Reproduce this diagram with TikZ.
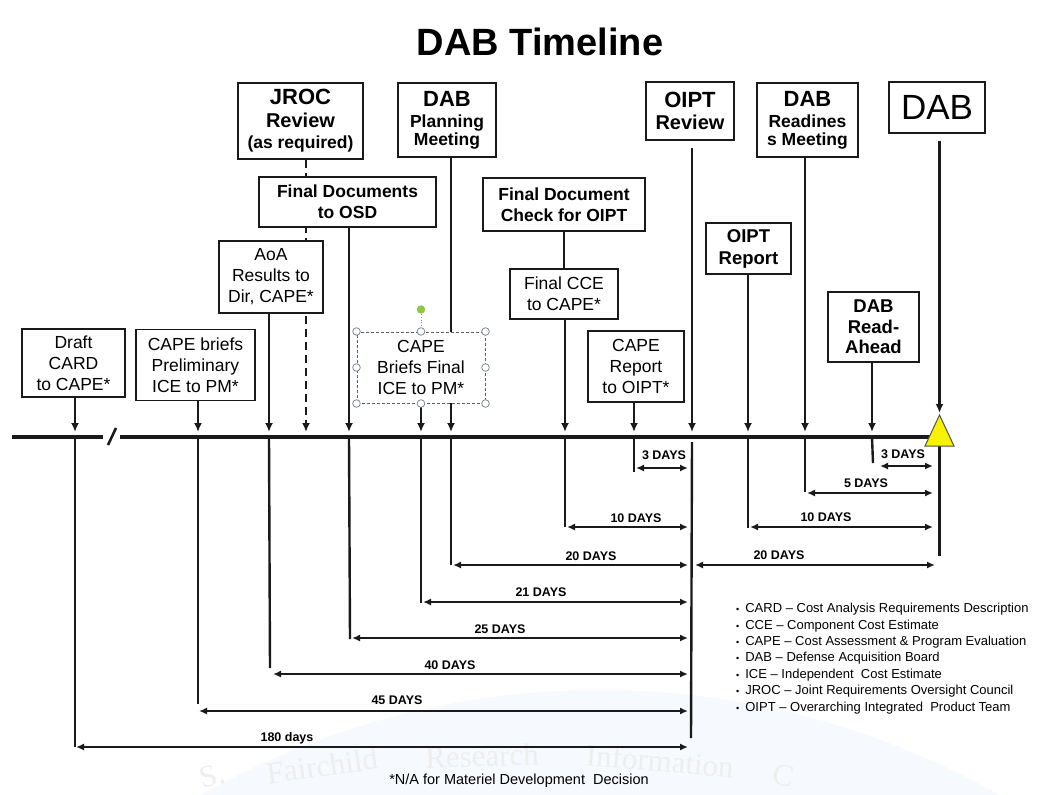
\documentclass[tikz,border=0pt]{standalone}
\usepackage{fontspec}
\setmainfont{Liberation Sans}
\newfontfamily\wmfont{Liberation Serif}
\usetikzlibrary{arrows.meta}
\definecolor{ink}{HTML}{1A1A1A}
\definecolor{triyellow}{HTML}{F7F200}
\definecolor{wmblue}{HTML}{F6F9FD}
\definecolor{wmgray}{HTML}{EEEEEE}
\definecolor{handlegray}{HTML}{7D8A96}
\definecolor{rotgreen}{HTML}{8DC63F}
\pgfdeclarelayer{back}
\pgfdeclarelayer{lines}
\pgfsetlayers{back,lines,main}
\tikzset{
  box/.style={draw=ink, line width=1.6pt, fill=white, align=center, inner sep=0pt},
  reg/.style={font=\fontsize{17.5}{21}\selectfont},
  bld/.style={font=\fontsize{17.5}{21}\selectfont\bfseries},
  vline/.style={draw=ink, line width=2.4pt},
  down/.style={vline, -{Latex[length=9pt,width=8pt]}},
  jrocline/.style={down, dash pattern=on 8pt off 5pt},
  span/.style={draw=ink, line width=1.8pt, {Latex[length=8pt,width=7pt]}-{Latex[length=8pt,width=7pt]}},
  days/.style={font=\fontsize{12.5}{14}\selectfont\bfseries, inner sep=0pt},
  handle/.style={draw=handlegray, fill=white, line width=0.8pt},
  wm/.style={font=\wmfont\fontsize{31}{31}\selectfont, text=wmgray, inner sep=0pt},
}
\begin{document}
\begin{tikzpicture}[x=1pt,y=-1pt]
\useasboundingbox (0,0) rectangle (1042,795);
\begin{pgfonlayer}{back}
  \fill[white] (0,0) rectangle (1042,795);
  \begin{scope}
    \clip (0,0) rectangle (1042,795);
    \fill[wmblue] (600,1500) circle (810);
  \end{scope}
  % watermark words
  \node[wm, rotate=14] (wm1) at (212,776) {S.};
  \node[wm, rotate=8] (wm2) at (322,766) {Fairchild};
  \node[wm, rotate=2] (wm3) at (482,756) {Research};
  \node[wm, rotate=-5] (wm4) at (660,761) {Information};
  \node[wm, rotate=-11] (wm5) at (784,776) {C};
\end{pgfonlayer}

% title
\node[font=\fontsize{38}{40}\selectfont\bfseries] (title) at (540,42) {DAB Timeline};

% boxes
\node[box,reg,minimum width=103pt,minimum height=68pt] (card) at (73.5,363) {Draft\\CARD\\to CAPE*};
\node[box,reg,minimum width=119pt,minimum height=71pt] (prelim) at (195.5,365) {CAPE briefs\\Preliminary\\ICE to PM*};
\node[box,reg,minimum width=104pt,minimum height=72pt] (aoa) at (271,277) {AoA\\Results to\\Dir, CAPE*};
\node[box,bld,minimum width=125pt,minimum height=76pt] (jroc) at (300.5,121) {{\fontsize{22}{24}\selectfont JROC}\\[2pt]{\fontsize{20}{22}\selectfont Review}\\(as required)};
\node[box,bld,minimum width=177pt,minimum height=50pt] (fdocs) at (347.5,202) {Final Documents\\to OSD};
\node[box,bld,minimum width=98pt,minimum height=74pt] (dabplan) at (447,120) {{\fontsize{22}{24}\selectfont DAB}\\Planning\\[-3pt]Meeting};
\node[box,reg,draw=handlegray!70!black,line width=1pt,dash pattern=on 3pt off 2pt,minimum width=128pt,minimum height=71pt] (capefin) at (421,367.5) {CAPE\\Briefs Final\\ICE to PM*};
\node[box,bld,minimum width=162pt,minimum height=53pt] (fdcheck) at (564,204.5) {Final Document\\Check for OIPT};
\node[box,reg,minimum width=108pt,minimum height=50pt] (fcce) at (564,294) {Final CCE\\to CAPE*};
\node[box,reg,minimum width=96pt,minimum height=71pt] (caperep) at (636,366.5) {CAPE\\Report\\to OIPT*};
\node[box,bld,minimum width=88pt,minimum height=58pt] (oiptrev) at (690,111) {{\fontsize{22}{24}\selectfont OIPT}\\[1pt]{\fontsize{20}{22}\selectfont Review}};
\node[box,bld,minimum width=101pt,minimum height=74pt] (dabready) at (807.5,120) {{\fontsize{22}{24}\selectfont DAB}\\Readines\\[-3pt]s Meeting};
\node[box,minimum width=96pt,minimum height=51pt,font=\fontsize{35}{38}\selectfont] (dab) at (937,107.5) {DAB};
\node[box,minimum width=85pt,minimum height=51pt,font=\fontsize{18.5}{22}\selectfont\bfseries] (oiptrep) at (748.5,248.5) {OIPT\\Report};
\node[box,minimum width=91pt,minimum height=70pt,font=\fontsize{18.5}{20.5}\selectfont\bfseries] (readahead) at (873.5,327) {DAB\\Read-\\Ahead};

% selection handles on the CAPE Briefs Final box
\draw[handlegray, dotted, line width=0.8pt] (capefin.north) -- ++(0,-18);
\fill[rotgreen] ([yshift=22pt]capefin.north) circle (4.2);
\foreach \a in {north west,north,north east,east,south east,south,south west,west}
  \draw[handle] (capefin.\a) circle (3.8);

% timeline coordinates (above: arrow tips; below: ends)
\coordinate (p1) at (75,432);   \coordinate (q1) at (75,747);
\coordinate (p2) at (198,432);  \coordinate (q2) at (198,704);
\coordinate (p3) at (269,432);  \coordinate (q3) at (270,668);
\coordinate (p4) at (306,432);
\coordinate (p5) at (349,432);  \coordinate (q5) at (350,639);
\coordinate (p6) at (421,432);  \coordinate (q6) at (421,603);
\coordinate (p7) at (451,432);  \coordinate (q7) at (451,565);
\coordinate (p8) at (565,432);  \coordinate (q8) at (565,527);
\coordinate (p9) at (634,432);  \coordinate (q9) at (634,472);
\coordinate (p10) at (692,432); \coordinate (q10) at (691,738);
\coordinate (p11) at (748,432); \coordinate (q11) at (748,528);
\coordinate (p12) at (805,432); \coordinate (q12) at (805,492);
\coordinate (p13) at (872,432); \coordinate (q13) at (873,463);
\coordinate (apex) at (939.5,413); \coordinate (tribase) at (939.5,446); \coordinate (q14) at (939.5,556);
\coordinate (tlA) at (12,437); \coordinate (tlB) at (103,437);
\coordinate (brkA) at (108,445); \coordinate (brkB) at (116,428);
\coordinate (tlC) at (120,437); \coordinate (tlD) at (930,437);

\begin{pgfonlayer}{lines}
  % connectors from boxes to the timeline
  \draw[down] (card.south -| p1) -- (p1);
  \draw[down] (prelim.south -| p2) -- (p2);
  \draw[down] (aoa.south -| p3) -- (p3);
  \draw[jrocline] (jroc.south -| p4) -- (p4);
  \draw[down] (fdocs.south -| p5) -- (p5);
  \draw[down] (capefin.south -| p6) -- (p6);
  \draw[down] (dabplan.south -| p7) -- (p7);
  \draw[vline] (fdcheck.south -| fcce.north) -- (fcce.north);
  \draw[down] (fcce.south -| p8) -- (p8);
  \draw[down] (caperep.south -| p9) -- (p9);
  \draw[down, shorten <=7pt] (oiptrev.south -| p10) -- (p10);
  \draw[down] (oiptrep.south -| p11) -- (p11);
  \draw[down] (dabready.south -| p12) -- (p12);
  \draw[down] (readahead.south -| p13) -- (p13);
  \draw[down, shorten <=7pt] (dab.south -| apex) -- (apex);
  % verticals below the timeline
  \foreach \i in {1,2,3,5,6,7,8,9,11,12,13}
    \draw[vline] (p\i |- tlA) -- (q\i);
  \draw[vline] ([yshift=-5pt]p10 |- tlA) -- (q10);
  \draw[vline] (tribase) -- (q14);
\end{pgfonlayer}

% timeline
\draw[ink, line width=4.5pt] (tlA) -- (tlB);
\draw[ink, line width=2.6pt] (brkA) -- (brkB);
\draw[ink, line width=4.5pt] (tlC) -- (tlD);
\fill[triyellow, draw=ink!75, line width=1pt] (925,446) -- (apex |- 0,415) -- (954,446) -- cycle;

% span arrows, left group (to OIPT review)
\coordinate (e3) at (688,468);   \draw[span] (636,468) coordinate (s3) -- (e3);
\coordinate (e10) at (688,527);  \draw[span] (567,527) coordinate (s10) -- (e10);
\coordinate (e20) at (688,565);  \draw[span] (453,565) coordinate (s20) -- (e20);
\coordinate (e21) at (688,602);  \draw[span] (423,602) coordinate (s21) -- (e21);
\coordinate (e25) at (688,638);  \draw[span] (352,638) coordinate (s25) -- (e25);
\coordinate (e40) at (688,674);  \draw[span] (273,674) coordinate (s40) -- (e40);
\coordinate (e45) at (688,711);  \draw[span] (199,711) coordinate (s45) -- (e45);
\coordinate (e180) at (688,747); \draw[span] (76,747) coordinate (s180) -- (e180);
% span arrows, right group (to DAB)
\coordinate (f3) at (933,466);   \draw[span] (880,466) coordinate (r3) -- (f3);
\coordinate (f5) at (933,493);   \draw[span] (807,493) coordinate (r5) -- (f5);
\coordinate (f10) at (933,527);  \draw[span] (750,527) coordinate (r10) -- (f10);
\coordinate (f20) at (935,565);  \draw[span] (695,565) coordinate (r20) -- (f20);

% day labels
\node[days] (l3) at (664,455) {3 DAYS};
\node[days] (l10) at (636,518) {10 DAYS};
\node[days] (l20) at (591,556) {20 DAYS};
\node[days] (l21) at (541,592) {21 DAYS};
\node[days] (l25) at (500,629) {25 DAYS};
\node[days] (l40) at (450,665) {40 DAYS};
\node[days] (l45) at (397,700) {45 DAYS};
\node[days] (l180) at (287,738) {180 days};
\node[days] (r3l) at (903,454) {3 DAYS};
\node[days] (r5l) at (866,483) {5 DAYS};
\node[days] (r10l) at (826,517) {10 DAYS};
\node[days] (r20l) at (779,555) {20 DAYS};

% legend
\node[anchor=north west, inner sep=0pt, align=left, font=\fontsize{13}{16.4}\selectfont] (legend) at (736,603) {%
{\fontsize{9}{9}\selectfont\textbullet}\hspace{6pt}CARD – Cost Analysis Requirements Description\\
{\fontsize{9}{9}\selectfont\textbullet}\hspace{6pt}CCE – Component Cost Estimate\\
{\fontsize{9}{9}\selectfont\textbullet}\hspace{6pt}CAPE – Cost Assessment \& Program Evaluation\\
{\fontsize{9}{9}\selectfont\textbullet}\hspace{6pt}DAB – Defense Acquisition Board\\
{\fontsize{9}{9}\selectfont\textbullet}\hspace{6pt}ICE – Independent\ \ Cost Estimate\\
{\fontsize{9}{9}\selectfont\textbullet}\hspace{6pt}JROC – Joint Requirements Oversight Council\\
{\fontsize{9}{9}\selectfont\textbullet}\hspace{6pt}OIPT – Overarching Integrated\ \ Product Team};

% footnote
\node[font=\fontsize{14.5}{16}\selectfont, inner sep=0pt] (foot) at (519,781) {*N/A for Materiel Development\ \ Decision};
\end{tikzpicture}
\end{document}
